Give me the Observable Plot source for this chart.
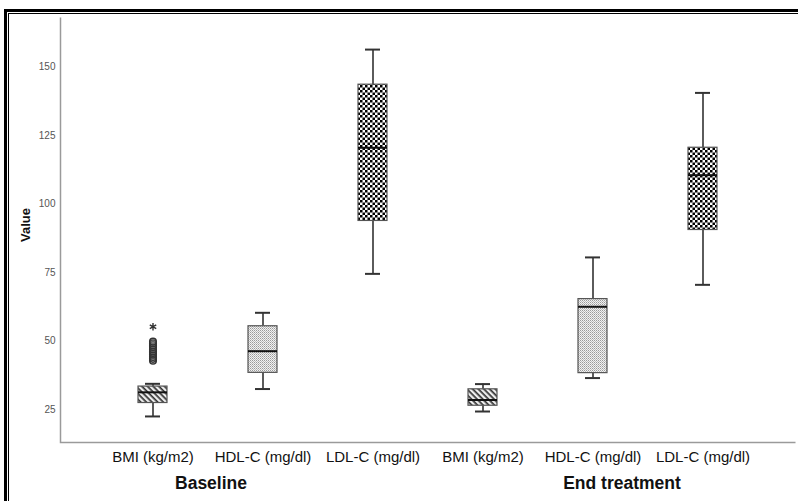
<!DOCTYPE html>
<html>
<head>
<meta charset="utf-8">
<script src="https://cdn.jsdelivr.net/npm/d3@7"></script>
<script src="https://cdn.jsdelivr.net/npm/@observablehq/plot@0.6"></script>
<style>
  html, body { margin: 0; padding: 0; background: #fff; }
  #wrap { position: relative; width: 798px; height: 501px; overflow: hidden; }
  #outer { position: absolute; left: 4px; top: 9px; right: -10px; bottom: -10px; border-left: 3px solid #000; border-top: 3px solid #000; pointer-events: none; }
  #inner { position: absolute; left: 8px; top: 13px; right: -10px; bottom: -10px; border-left: 1px solid #000; border-top: 1px solid #000; pointer-events: none; }
  svg { display: block; }
</style>
</head>
<body>
<div id="wrap">
  <div id="chart"></div>
  <div id="outer"></div>
  <div id="inner"></div>
</div>
<script>
// ---- data ----
const groups = ["Baseline", "End treatment"];
const variables = ["BMI (kg/m2)", "HDL-C (mg/dl)", "LDL-C (mg/dl)"];
// order: Baseline BMI, HDL, LDL, End BMI, HDL, LDL
const whiskerLow  = [22.5, 32.5, 74.5, 24.3, 36.5, 70.5];
const q1          = [27.4, 38.4, 93.8, 26.4, 38.3, 90.5];
const median      = [31.3, 46.3, 120.5, 28.5, 62.5, 110.5];
const q3          = [33.4, 55.4, 143.5, 32.4, 65.3, 120.5];
const whiskerHigh = [34.4, 60.3, 156.3, 34.3, 80.5, 140.5];
const outlierValues = [42.8, 43.5, 44.2, 45, 45.6, 46.3, 47, 47.8, 48.5, 49.2, 49.8];   // Baseline BMI circles
const extremeValues = [55.2];                               // Baseline BMI star
const yTicks = [25, 50, 75, 100, 125, 150];

// ---- build table ----
const cats = [];
groups.forEach(g => variables.forEach(v => cats.push(g + "|" + v)));
const boxes = cats.map((c, i) => ({
  cat: c, group: c.split("|")[0], variable: c.split("|")[1],
  lo: whiskerLow[i], q1: q1[i], med: median[i], q3: q3[i], hi: whiskerHigh[i]
}));
const outliers = outlierValues.map(v => ({cat: cats[0], value: v}));
const extremes = extremeValues.map(v => ({cat: cats[0], value: v}));
const patternFor = v => v.startsWith("BMI") ? "url(#hatch)" : v.startsWith("HDL") ? "url(#stipple)" : "url(#checker)";

const font = "'Liberation Sans', Arial, sans-serif";
const W = 798, H = 501, mL = 60, mT = 17, mR = 3, mB = 59;
const fw = W - mL - mR, fh = H - mT - mB;

const chart = Plot.plot({
  width: W,
  height: H,
  marginLeft: mL,
  marginTop: mT,
  marginRight: mR,
  marginBottom: mB,
  style: {fontFamily: font, background: "transparent"},
  x: {domain: cats, paddingInner: 0.737, paddingOuter: 0.703, axis: null},
  y: {domain: [13, 168], axis: null},
  marks: [
    // left + bottom axis lines (frame stroke drawn only along bottom and left edges)
    Plot.frame({stroke: "#9a9a9a", strokeWidth: 1.5, strokeDasharray: `0 ${fw + fh} ${fw + fh}`}),
    Plot.axisY({ticks: yTicks, tickSize: 0, tickPadding: 5, fontSize: 10, fill: "#555", label: null}),
    Plot.axisX({tickSize: 0, tickPadding: 9, fontSize: 15, fill: "#111", stroke: "#111", strokeWidth: 0.3, label: null,
      tickFormat: d => d.split("|")[1]}),
    Plot.text(["Value"], {frameAnchor: "left", dx: -35, dy: 12, rotate: -90, fontSize: 13, fontWeight: "bold", fill: "#111"}),
    Plot.text([groups[0]], {x: [cats[1]], frameAnchor: "bottom", dx: -52, dy: 46,
      fontSize: 17.5, fontWeight: "bold", fill: "#111"}),
    Plot.text([groups[1]], {x: [cats[4]], frameAnchor: "bottom", dx: 29, dy: 46,
      fontSize: 17.5, fontWeight: "bold", fill: "#111"}),
    // whiskers
    Plot.ruleX(boxes, {x: "cat", y1: "lo", y2: "q1", stroke: "#333", strokeWidth: 1.6}),
    Plot.ruleX(boxes, {x: "cat", y1: "q3", y2: "hi", stroke: "#333", strokeWidth: 1.6}),
    Plot.tickY(boxes, {x: "cat", y: "lo", stroke: "#333", strokeWidth: 2, insetLeft: 7, insetRight: 7}),
    Plot.tickY(boxes, {x: "cat", y: "hi", stroke: "#333", strokeWidth: 2, insetLeft: 7, insetRight: 7}),
    // boxes, one mark per pattern
    ...variables.map(v => Plot.barY(boxes.filter(d => d.variable === v), {
      x: "cat", y1: "q1", y2: "q3", fill: patternFor(v), stroke: "#555", strokeWidth: 1.2
    })),
    Plot.tickY(boxes, {x: "cat", y: "med", stroke: "#111", strokeWidth: 2}),
    Plot.dot(outliers, {x: "cat", y: "value", r: 3.3, stroke: "#333", strokeWidth: 1.5, fill: "#888", fillOpacity: 0.3}),
    Plot.dot(extremes, {x: "cat", y: "value", r: 3.5, symbol: "asterisk", stroke: "#333", strokeWidth: 1.4})
  ]
});

// fill patterns
const ns = "http://www.w3.org/2000/svg";
const defs = document.createElementNS(ns, "defs");
defs.innerHTML = `
  <pattern id="hatch" patternUnits="userSpaceOnUse" width="4" height="4" patternTransform="rotate(45)">
    <rect width="4" height="4" fill="#eeeeee"/>
    <rect width="4" height="1.7" fill="#333"/>
  </pattern>
  <pattern id="stipple" patternUnits="userSpaceOnUse" width="2" height="2">
    <rect width="2" height="2" fill="#f2f2f2"/>
    <rect width="1" height="1" fill="#9a9a9a"/>
    <rect x="1" y="1" width="1" height="1" fill="#bdbdbd"/>
  </pattern>
  <pattern id="checker" patternUnits="userSpaceOnUse" width="5" height="5">
    <rect width="5" height="5" fill="#fff"/>
    <rect width="2.5" height="2.5" fill="#000"/>
    <rect x="2.5" y="2.5" width="2.5" height="2.5" fill="#000"/>
  </pattern>`;
chart.insertBefore(defs, chart.firstChild);
document.getElementById("chart").appendChild(chart);
</script>
</body>
</html>
